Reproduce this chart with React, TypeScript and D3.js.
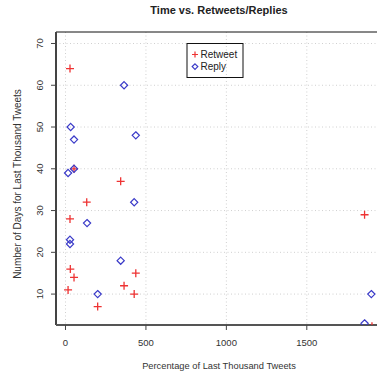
import React, { useEffect, useRef } from "react";
import * as d3 from "d3";

// percentage of last thousand tweets vs number of days
const retweetX = [28, 53, 343, 132, 28, 1859, 30, 53, 16, 200, 364, 437, 427, 1905];
const retweetY = [64, 40, 37, 32, 28, 29, 16, 14, 11, 7, 12, 15, 10, 2.3];
const replyX = [364, 32, 53, 437, 53, 16, 427, 134, 28, 28, 343, 200, 1901, 1859];
const replyY = [60, 50, 47, 48, 40, 39, 32, 27, 23, 22, 18, 10, 10, 3];
const xTicks = [0, 500, 1000, 1500];
const yTicks = [10, 20, 30, 40, 50, 60, 70];

const FONT = "'Liberation Sans', Arial, sans-serif";
const RED = "#ee3333";
const BLUE = "#3a3ac8";

export default function App() {
  const svgRef = useRef<SVGSVGElement>(null);

  useEffect(() => {
    const width = 377;
    const height = 377;
    const m = { left: 56, top: 32, right: 385, bottom: 325 };

    const svg = d3.select(svgRef.current);
    svg.selectAll("*").remove();
    svg.attr("width", width).attr("height", height);

    const x = d3.scaleLinear().domain([-59, 1986]).range([m.left, m.right]);
    const y = d3.scaleLinear().domain([2.6, 72.75]).range([m.bottom, m.top]);

    svg
      .append("defs")
      .append("clipPath")
      .attr("id", "plot")
      .append("rect")
      .attr("x", m.left)
      .attr("y", m.top)
      .attr("width", m.right - m.left)
      .attr("height", m.bottom - m.top);

    // grid
    const grid = svg.append("g").attr("stroke", "#d0d0d0").attr("stroke-dasharray", "1,2.5");
    xTicks.forEach(t => {
      grid.append("line").attr("x1", x(t)).attr("x2", x(t)).attr("y1", m.top).attr("y2", m.bottom);
    });
    yTicks.forEach(t => {
      grid.append("line").attr("x1", m.left).attr("x2", m.right).attr("y1", y(t)).attr("y2", y(t));
    });

    // frame
    svg.append("line").attr("x1", m.left).attr("x2", m.right).attr("y1", m.top).attr("y2", m.top)
      .attr("stroke", "#111").attr("stroke-width", 1);
    svg.append("line").attr("x1", m.left).attr("x2", m.left).attr("y1", m.top).attr("y2", m.bottom)
      .attr("stroke", "#444").attr("stroke-width", 2);
    svg.append("line").attr("x1", m.left).attr("x2", m.right).attr("y1", m.bottom).attr("y2", m.bottom)
      .attr("stroke", "#555").attr("stroke-width", 2);

    // ticks
    xTicks.forEach(t => {
      svg.append("line").attr("x1", x(t)).attr("x2", x(t)).attr("y1", m.bottom).attr("y2", m.bottom + 5)
        .attr("stroke", "#444");
      svg.append("text").attr("x", x(t)).attr("y", 346).attr("text-anchor", "middle")
        .attr("font-family", FONT).attr("font-size", 9.5).attr("fill", "#333").text(t);
    });
    yTicks.forEach(t => {
      svg.append("line").attr("x1", m.left - 5).attr("x2", m.left).attr("y1", y(t)).attr("y2", y(t))
        .attr("stroke", "#444");
      svg.append("text").attr("transform", `translate(43,${y(t)}) rotate(-90)`).attr("text-anchor", "middle")
        .attr("font-family", FONT).attr("font-size", 9.5).attr("fill", "#333").text(t);
    });

    // points
    const pts = svg.append("g").attr("clip-path", "url(#plot)");
    const s = 4;
    retweetX.forEach((v, i) => {
      const cx = x(v), cy = y(retweetY[i]);
      pts.append("path")
        .attr("d", `M${cx - s},${cy}H${cx + s}M${cx},${cy - s}V${cy + s}`)
        .attr("stroke", RED).attr("stroke-width", 1.3).attr("fill", "none");
    });
    const dd = 3.6;
    replyX.forEach((v, i) => {
      const cx = x(v), cy = y(replyY[i]);
      pts.append("path")
        .attr("d", `M${cx},${cy - dd}L${cx + dd},${cy}L${cx},${cy + dd}L${cx - dd},${cy}Z`)
        .attr("stroke", BLUE).attr("stroke-width", 1.2).attr("fill", "none");
    });

    // legend
    const lg = svg.append("g");
    lg.append("rect").attr("x", 187).attr("y", 43.5).attr("width", 56).attr("height", 34)
      .attr("fill", "none").attr("stroke", "#111").attr("stroke-width", 1);
    const lx = 195;
    lg.append("path").attr("d", `M${lx - 3},54.5H${lx + 3}M${lx},51.5V57.5`)
      .attr("stroke", RED).attr("stroke-width", 1.2);
    lg.append("path").attr("d", `M${lx},63.8L${lx + 2.8},66.6L${lx},69.4L${lx - 2.8},66.6Z`)
      .attr("stroke", BLUE).attr("stroke-width", 1.2).attr("fill", "none");
    lg.append("text").attr("x", 200.5).attr("y", 58).attr("font-family", FONT).attr("font-size", 10)
      .attr("fill", "#222").text("Retweet");
    lg.append("text").attr("x", 200.5).attr("y", 70).attr("font-family", FONT).attr("font-size", 10)
      .attr("fill", "#222").text("Reply");

    // titles
    svg.append("text").attr("x", 219).attr("y", 14).attr("text-anchor", "middle")
      .attr("font-family", FONT).attr("font-weight", "bold").attr("font-size", 11).attr("fill", "#222")
      .text("Time vs. Retweets/Replies");
    svg.append("text").attr("x", 219).attr("y", 369).attr("text-anchor", "middle")
      .attr("font-family", FONT).attr("font-size", 9.3).attr("fill", "#333")
      .text("Percentage of Last Thousand Tweets");
    svg.append("text").attr("transform", `translate(21,184) rotate(-90)`)
      .attr("text-anchor", "middle").attr("font-family", FONT).attr("font-size", 10).attr("fill", "#333")
      .text("Number of Days for Last Thousand Tweets");
  }, []);

  return (
    <div style={{ position: "absolute", left: 0, top: 0, width: 377, height: 377, background: "#fff" }}>
      <svg ref={svgRef} style={{ display: "block" }} />
    </div>
  );
}
